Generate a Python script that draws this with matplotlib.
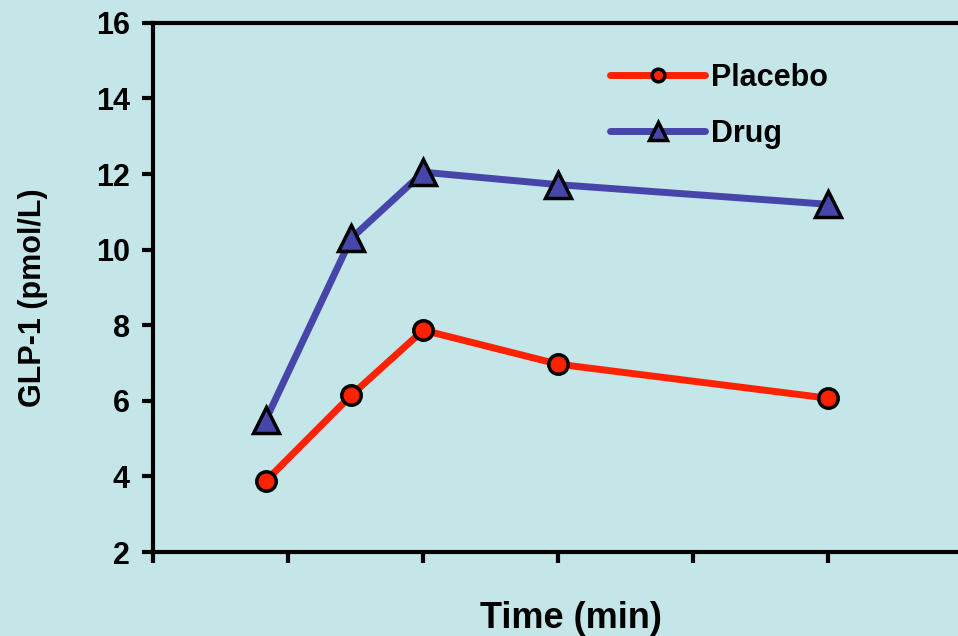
import matplotlib.pyplot as plt

# GLP-1 over time, placebo vs drug
time_min = [25, 44, 60, 90, 150]
placebo = [3.88, 6.15, 7.87, 6.97, 6.07]
drug = [5.5, 10.3, 12.05, 11.72, 11.2]
x_ticks = [0, 30, 60, 90, 120, 150]
y_ticks = [2, 4, 6, 8, 10, 12, 14, 16]

bg = '#c5e6e8'
plt.rcParams['font.family'] = ['Liberation Sans', 'DejaVu Sans']
plt.rcParams['font.weight'] = 'bold'

fig = plt.figure(figsize=(9.58, 6.36), dpi=100, facecolor=bg)
ax = fig.add_axes([0.16, 0.132, 0.9, 0.832], facecolor=bg)

ax.plot(time_min, placebo, color='#ff2200', lw=5, marker='o', ms=14,
        mfc='#ff2200', mec='black', mew=2.5, label='Placebo', solid_capstyle='round')
ax.plot(time_min, drug, color='#4646aa', lw=5, marker='^', ms=19,
        mfc='#4646aa', mec='black', mew=2.5, label='Drug', solid_capstyle='round')

ax.set_xlim(0, 191.6)
ax.set_ylim(2, 16)
ax.set_xticks(x_ticks)
ax.set_xticklabels([])
ax.set_yticks(y_ticks)
ax.tick_params(axis='both', direction='out', length=8, width=3, color='black',
               labelsize=22, pad=9)
for lab in ax.get_yticklabels():
    lab.set_fontweight('bold')
for s in ['left', 'bottom', 'top']:
    ax.spines[s].set_linewidth(3)
ax.spines['right'].set_visible(False)

ax.set_ylabel('GLP-1 (pmol/L)', fontsize=22, fontweight='bold')
ax.yaxis.set_label_coords((48 - 153) / 862, (552 - 298) / 529)
ax.set_xlabel('Time (min)', fontsize=26, fontweight='bold', va='baseline')
ax.xaxis.set_label_coords((571 - 153) / 862, -0.1437)

leg = ax.legend(loc='upper left', bbox_to_anchor=(0.530, 0.925), frameon=False,
                prop={'size': 22, 'weight': 'bold'}, handlelength=3.1,
                handletextpad=0.2, labelspacing=0.85, markerscale=0.65,
                borderpad=0, borderaxespad=0)

fig.savefig('out.png', dpi=100, facecolor=bg)
